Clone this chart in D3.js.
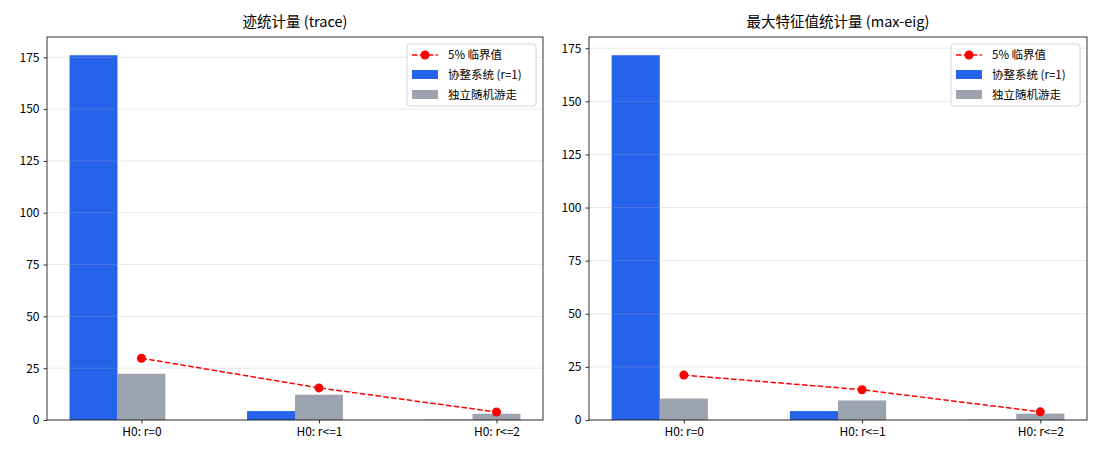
<!DOCTYPE html>
<html>
<head>
<meta charset="utf-8">
<script src="https://cdn.jsdelivr.net/npm/d3@7"></script>
<style>
  body { margin: 0; background: #fff; }
  text { font-family: "Noto Sans CJK SC", "DejaVu Sans", sans-serif; fill: #000; }
</style>
</head>
<body>
<div class="chart"></div>
<script>
// Data
var categories = ["H0: r=0", "H0: r<=1", "H0: r<=2"];
var traceCoint = [176.0, 4.3, 0.1];
var traceRandom = [22.3, 12.2, 3.0];
var traceCrit = [29.80, 15.49, 3.84];
var eigCoint = [171.7, 4.2, 0.1];
var eigRandom = [10.1, 9.2, 3.0];
var eigCrit = [21.13, 14.26, 3.84];
var titles = ["迹统计量 (trace)", "最大特征值统计量 (max-eig)"];
var legendLabels = ["5% 临界值", "协整系统 (r=1)", "独立随机游走"];

var blue = "#2563eb";
var gray = "#9ca3af";
var red = "#ff0000";

var svgWidth = 1100;
var svgHeight = 459;

var svg = d3.select(".chart")
  .append("svg")
  .attr("width", svgWidth)
  .attr("height", svgHeight);

var panels = [
  { left: 47, right: 543, coint: traceCoint, random: traceRandom, crit: traceCrit, title: titles[0] },
  { left: 589, right: 1087, coint: eigCoint, random: eigRandom, crit: eigCrit, title: titles[1] }
];
var plotTop = 37, plotBottom = 420;
var barW = 0.27;

panels.forEach(function(p) {
  var g = svg.append("g");
  var width = p.right - p.left;

  var lo = -1.5 * barW, hi = 2 + 0.5 * barW;
  var m = 0.05 * (hi - lo);
  var x = d3.scaleLinear().domain([lo - m, hi + m]).range([p.left, p.right]);
  var ymax = d3.max(p.coint.concat(p.random, p.crit)) * 1.05;
  var y = d3.scaleLinear().domain([0, ymax]).range([plotBottom, plotTop]);
  var yTicks = d3.range(0, ymax, 25);

  // bars
  g.selectAll(".coint")
    .data(p.coint)
    .enter()
    .append("rect")
    .attr("x", (d, i) => x(i - barW * 1.5))
    .attr("width", x(barW) - x(0))
    .attr("y", d => y(d))
    .attr("height", d => plotBottom - y(d))
    .attr("fill", blue);

  g.selectAll(".random")
    .data(p.random)
    .enter()
    .append("rect")
    .attr("x", (d, i) => x(i - barW * 0.5))
    .attr("width", x(barW) - x(0))
    .attr("y", d => y(d))
    .attr("height", d => plotBottom - y(d))
    .attr("fill", gray);

  // grid (drawn over the bars, faint)
  g.append("g")
    .selectAll("line")
    .data(yTicks)
    .enter()
    .append("line")
    .attr("x1", p.left).attr("x2", p.right)
    .attr("y1", d => y(d)).attr("y2", d => y(d))
    .attr("stroke", "#b0b0b0").attr("stroke-opacity", 0.35).attr("stroke-width", 0.8);

  // critical values
  var line = d3.line().x((d, i) => x(i)).y(d => y(d));
  g.append("path")
    .datum(p.crit)
    .attr("d", line)
    .attr("fill", "none")
    .attr("stroke", red)
    .attr("stroke-width", 1.5)
    .attr("stroke-dasharray", "5.5,2.4");
  g.selectAll(".crit")
    .data(p.crit)
    .enter()
    .append("circle")
    .attr("cx", (d, i) => x(i))
    .attr("cy", d => y(d))
    .attr("r", 4.5)
    .attr("fill", red);

  // axes
  var yAxis = g.append("g")
    .attr("transform", `translate(${p.left},0)`)
    .call(d3.axisLeft(y).tickValues(yTicks).tickSize(3.5).tickPadding(4));
  var xAxis = g.append("g")
    .attr("transform", `translate(0,${plotBottom})`)
    .call(d3.axisBottom(x).tickValues([0, 1, 2]).tickFormat(i => categories[i]).tickSize(3.5).tickPadding(4));
  [xAxis, yAxis].forEach(function(a) {
    a.select(".domain").remove();
    a.selectAll("text").style("font-size", "12px").attr("fill", "#000");
    a.selectAll("line").attr("stroke", "#000").attr("stroke-width", 0.8);
  });

  // frame
  g.append("rect")
    .attr("x", p.left).attr("y", plotTop)
    .attr("width", width).attr("height", plotBottom - plotTop)
    .attr("fill", "none").attr("stroke", "#000").attr("stroke-width", 0.8);

  // title
  g.append("text")
    .attr("x", (p.left + p.right) / 2)
    .attr("y", 27)
    .attr("text-anchor", "middle")
    .style("font-size", "14.5px")
    .text(p.title);

  // legend
  var lx = p.right - 136, ly = 44;
  var leg = g.append("g").attr("transform", `translate(${lx},${ly})`);
  leg.append("rect")
    .attr("width", 129).attr("height", 62).attr("rx", 3)
    .attr("fill", "#fff").attr("fill-opacity", 0.8)
    .attr("stroke", "#ccc").attr("stroke-width", 0.8);
  leg.append("line")
    .attr("x1", 5).attr("x2", 31).attr("y1", 11).attr("y2", 11)
    .attr("stroke", red).attr("stroke-width", 1.5).attr("stroke-dasharray", "5.5,2.4");
  leg.append("circle").attr("cx", 18).attr("cy", 11).attr("r", 4.5).attr("fill", red);
  leg.append("rect").attr("x", 5).attr("y", 26).attr("width", 26).attr("height", 9).attr("fill", blue);
  leg.append("rect").attr("x", 5).attr("y", 46).attr("width", 26).attr("height", 9).attr("fill", gray);
  leg.selectAll(".lt")
    .data(legendLabels)
    .enter()
    .append("text")
    .attr("x", 41)
    .attr("y", (d, i) => 11 + i * 20)
    .attr("dy", "0.35em")
    .style("font-size", "11.5px")
    .text(d => d);
});
</script>
</body>
</html>
